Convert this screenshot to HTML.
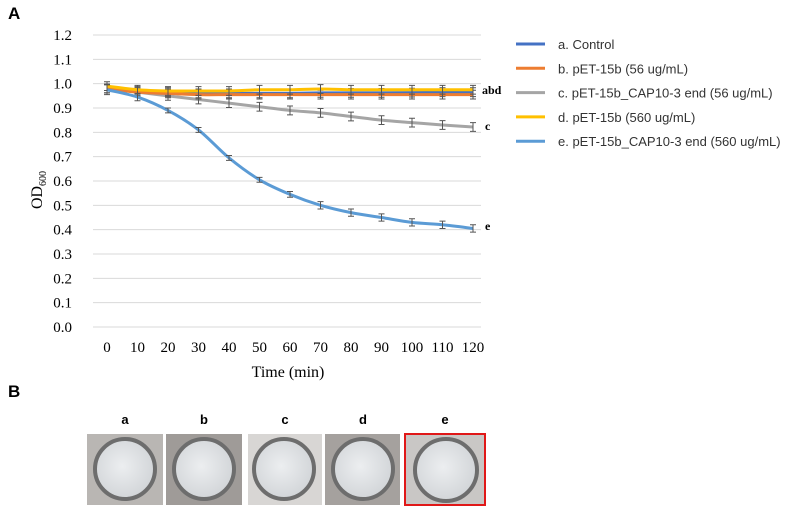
<!DOCTYPE html>
<html><head><meta charset="utf-8"><style>
body{margin:0;background:#fff;width:800px;height:509px;overflow:hidden;position:relative;font-family:"Liberation Sans",sans-serif}
.photo{position:absolute;background:#b9b6b3;overflow:hidden}
.well{position:absolute;left:6px;top:3px;width:64px;height:64px;border-radius:50%;border:4px solid #6d6d6d;background:radial-gradient(circle at 45% 45%,#eceef0,#d4d7da 70%,#bfc3c6);box-sizing:border-box}
.plabel{position:absolute;top:412px;font-weight:bold;font-size:13px;width:20px;text-align:center}
</style></head><body>
<svg id="chart" width="800" height="400" style="position:absolute;left:0;top:0" font-family="Liberation Serif, serif">
<text x="8" y="19" font-family="Liberation Sans, sans-serif" font-weight="bold" font-size="17">A</text>
<g id="grid"></g><g id="series"></g>
<text transform="translate(42,190) rotate(-90)" text-anchor="middle" font-size="16">OD<tspan font-size="10" dy="4">600</tspan></text>
<text x="288" y="377" text-anchor="middle" font-size="16">Time (min)</text>
<text x="482" y="94" font-size="12" font-weight="bold">abd</text>
<text x="485" y="130" font-size="12" font-weight="bold">c</text>
<text x="485" y="230" font-size="12" font-weight="bold">e</text>
<g id="legend" font-family="Liberation Sans, sans-serif" font-size="13"></g>
</svg>
<div style="position:absolute;left:8px;top:382px;font-weight:bold;font-size:17px">B</div>
<div class="plabel" style="left:115px">a</div>
<div class="plabel" style="left:194px">b</div>
<div class="plabel" style="left:275px">c</div>
<div class="plabel" style="left:353px">d</div>
<div class="plabel" style="left:435px">e</div>
<div class="photo" style="left:87px;top:434px;width:76px;height:71px"><div class="well"></div></div>
<div class="photo" style="left:166px;top:434px;width:76px;height:71px;background:#9f9b98"><div class="well"></div></div>
<div class="photo" style="left:248px;top:434px;width:74px;height:71px;background:#d8d6d4"><div class="well" style="left:4px"></div></div>
<div class="photo" style="left:325px;top:434px;width:75px;height:71px;background:#a5a19e"><div class="well"></div></div>
<div class="photo" style="left:404px;top:433px;width:82px;height:73px;border:2px solid #e01818;box-sizing:border-box;background:#c9c7c5"><div class="well" style="left:7px;top:2px;width:66px;height:66px"></div></div>
<script>
const categories=[0,10,20,30,40,50,60,70,80,90,100,110,120];
const yTicks=[0,0.1,0.2,0.3,0.4,0.5,0.6,0.7,0.8,0.9,1.0,1.1,1.2];
const seriesA=[0.98,0.97,0.965,0.96,0.96,0.96,0.96,0.962,0.962,0.962,0.963,0.965,0.965];
const seriesB=[0.98,0.965,0.96,0.955,0.955,0.955,0.955,0.955,0.955,0.955,0.955,0.955,0.955];
const seriesC=[0.98,0.965,0.95,0.935,0.92,0.905,0.89,0.88,0.865,0.85,0.84,0.83,0.822];
const seriesD=[0.99,0.975,0.97,0.97,0.97,0.975,0.975,0.978,0.975,0.975,0.975,0.975,0.975];
const seriesE=[0.975,0.945,0.89,0.81,0.695,0.605,0.545,0.5,0.47,0.45,0.43,0.42,0.405];
const errE=[0.02,0.015,0.01,0.01,0.01,0.01,0.012,0.015,0.015,0.015,0.015,0.015,0.015];
const NS="http://www.w3.org/2000/svg";
const X0=107,X1=473,Y0=327,Y1=35;
const xs=i=>X0+(X1-X0)*i/(categories.length-1);
const ys=v=>Y0-(Y0-Y1)*v/1.2;
function mk(t,a,p){const e=document.createElementNS(NS,t);for(const k in a)e.setAttribute(k,a[k]);p.appendChild(e);return e;}
const grid=document.getElementById('grid');
yTicks.forEach(v=>{
 const l=mk('line',{x1:93,x2:481,y1:ys(v),y2:ys(v),stroke:'#d9d9d9','stroke-width':1},grid);
 
 
 const t=mk('text',{x:72,y:ys(v)+5,'text-anchor':'end','font-size':15},grid);
 t.textContent=v.toFixed(1);
 
 
});
categories.forEach((c,i)=>{
 const t=mk('text',{x:xs(i),y:352,'text-anchor':'middle','font-size':15},grid);
 t.textContent=c;
 
 
});
function smooth(vals){
 const p=vals.map((v,i)=>[xs(i),ys(v)]);let d='M'+p[0];
 for(let i=0;i<p.length-1;i++){const a=p[i-1]||p[i],b=p[i],c=p[i+1],e=p[i+2]||c;
  d+=` C${b[0]+(c[0]-a[0])/6},${b[1]+(c[1]-a[1])/6} ${c[0]-(e[0]-b[0])/6},${c[1]-(e[1]-b[1])/6} ${c[0]},${c[1]}`;}
 return d;}
const sg=document.getElementById('series');
const sers=[[seriesC,'#a5a5a5','series-c'],[seriesA,'#4472c4','series-a'],[seriesB,'#ed7d31','series-b'],[seriesD,'#ffc000','series-d'],[seriesE,'#5b9bd5','series-e']];
sers.forEach(([vals,col,name])=>{
 const p=mk('path',{d:smooth(vals),fill:'none',stroke:col,'stroke-width':3},sg);
 
 
 vals.forEach((v,i)=>{
  const e=name==='series-e'?errE[i]:0.018;
  const g=mk('path',{d:`M${xs(i)},${ys(v+e)}V${ys(v-e)}M${xs(i)-3},${ys(v+e)}h6M${xs(i)-3},${ys(v-e)}h6`,stroke:'#555','stroke-width':1,fill:'none'},sg);
  
  
 });
});
const leg=document.getElementById('legend');
const legendLabels=['a. Control','b. pET-15b (56 ug/mL)','c. pET-15b_CAP10-3 end (56 ug/mL)','d. pET-15b (560 ug/mL)','e. pET-15b_CAP10-3 end (560 ug/mL)'];
const legendColors=['#4472c4','#ed7d31','#a5a5a5','#ffc000','#5b9bd5'];
legendLabels.forEach((s,i)=>{
 const y=44+i*24.3;
 const l=mk('line',{x1:516,x2:545,y1:y,y2:y,stroke:legendColors[i],'stroke-width':3},leg);
 
 
 const t=mk('text',{x:558,y:y+5,fill:'#333'},leg);
 t.textContent=s;
 
 
});
</script>
</body></html>
